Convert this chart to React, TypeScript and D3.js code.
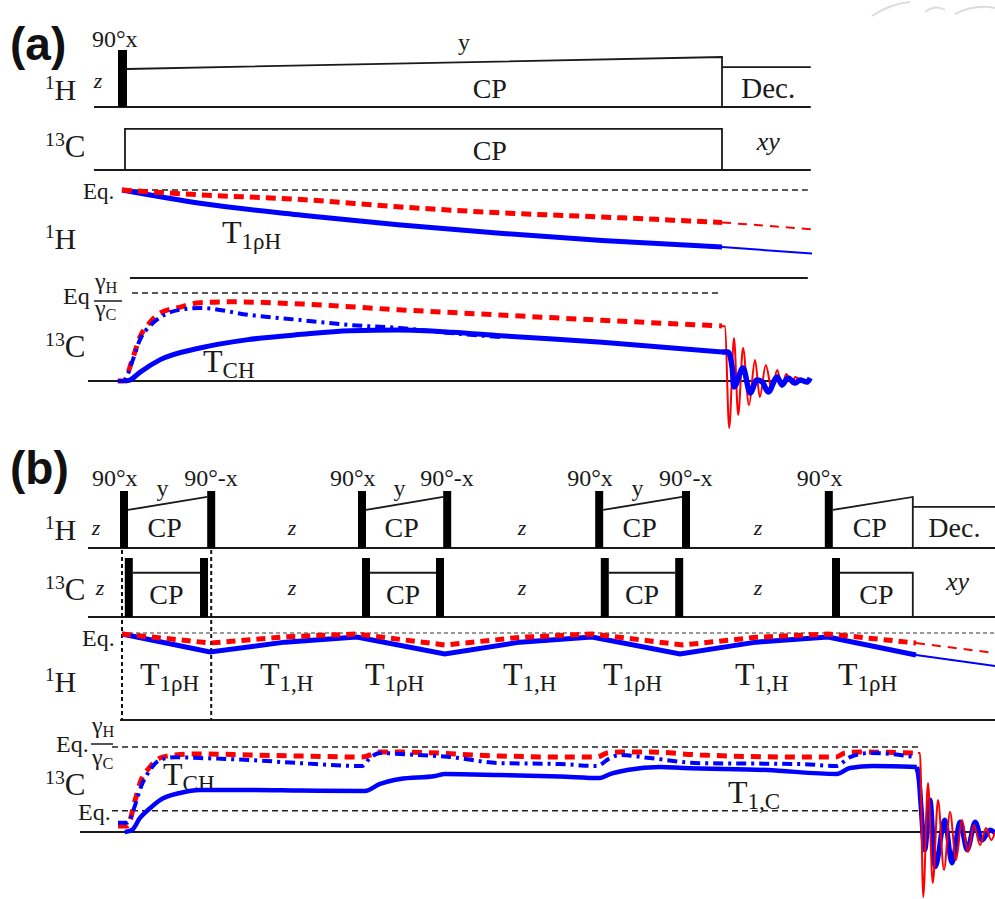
import * as d3 from 'd3'

type Pt = [number, number]
type Span = [number, number]

// ===== (a) single cross-polarization =====
// time: CP contact = 0..100 (arb. units), rf amplitude 0..1, magnetization in % of equilibrium
const aChannelSpan: Span = [-4.67, 114.8]
const aHPulse: Span = [-0.67, 0.83]
const aHRamp: Span = [0.83, 100]
const aHRampAmp: Span = [0.667, 0.877]
const aDec: Span = [100, 114.8]
const aDecAmp = 0.7
const aCLock: Span = [0.5, 100]
const aCLockAmp = 0.72

const aHEqSpan: Span = [0, 114.3]
const aHRed: Pt[] = [[0, 100], [13, 96], [30, 92], [46, 86], [63, 81], [80, 77.5], [100, 73]]
const aHRedAcq: Pt[] = [[100, 73], [115.5, 67]]
const aHBlue: Pt[] = [[0, 100], [13, 89], [30, 79], [46, 71], [63, 64], [80, 58], [100, 52.5]]
const aHBlueAcq: Pt[] = [[100, 52.5], [115, 47]]

const aCTopLevel = 117
const aCTopSpan: Span = [1.33, 114.3]
const aCEqSpan: Span = [1.67, 100]
const aCBaseSpan: Span = [-5.67, 114.8]
const aCRed: Pt[] = [[-0.7, 0], [0.3, 0], [1.7, 24], [3, 50], [4.7, 67], [6.3, 77], [9.7, 84], [13, 89], [18, 90],
  [30, 87.5], [46, 81], [63, 75], [80, 69], [100, 62.5]]
const aCBlueDD: Pt[] = [[-0.7, 0], [0.3, 0], [1.7, 22], [3, 47], [4.7, 63], [6.3, 72], [9.7, 81], [13, 83], [21.3, 75],
  [29.7, 69.3], [38, 63.6], [46.3, 60.2], [54.7, 54.5], [63, 50]]
const aCBlue: Pt[] = [[0.5, 0], [1.3, 1], [3, 10], [6.3, 24], [13, 37.5], [21, 47], [30, 53], [38, 57], [46, 58],
  [55, 55.5], [63, 51.5], [80, 44], [100, 33]]
const aFidRed: Pt[] = [[100, 62.5], [100.5, 62], [101.2, -53.4], [102, 48.9], [102.7, -38.6], [103.5, 37.5], [104.5, -27.3],
  [105.5, 23.9], [106.3, -18.2], [107.3, 18.2], [108.3, -10.2], [109.2, 12.5], [110, -6.8], [110.7, 8], [111.7, -3.4],
  [112.2, 4.5], [113, 0]]
const aFidBlue: Pt[] = [[100, 33], [101, 33], [101.7, 14.8], [102, -6.8], [103.5, 14.8], [104.7, -13.6], [105.8, 1.1],
  [106.7, -1.1], [107.7, -12.5], [109.2, 4.5], [110, -4.5], [111, 3.4], [112.2, -2.3], [113, 1.1], [114.2, -1.1], [114.7, 3.4]]

// ===== (b) multiple cross-polarization =====
const bChannelSpan: Span = [-4, 109.4]
const bHPulses = [0, 10.9, 29.75, 40.4, 59.4, 70.25, 88.1]
const bCPulses = [0.6, 10, 30.25, 39.5, 60.1, 69.4, 89]
const pulseW = 1
const bHRamps: Span[] = [[1, 10.9], [30.75, 40.4], [60.4, 70.25], [89.1, 99.1]]
const bHRampAmp: Span = [0.667, 0.895]
const bCLocks: Span[] = [[1.6, 10], [31.25, 39.5], [61.1, 69.4], [90, 99.1]]
const bCLockAmp = 0.75
const bDec: Span = [99.1, 109.4]
const bDecAmp = 0.72
const bZTimes = [21.5, 50.25, 79.75]
const bMarkers = [0.25, 11.4]

const bHEqSpan: Span = [0.25, 109.4]
const bHBaseSpan: Span = [0, 109.4]
const bHBlue: Pt[] = [[0.25, 98.9], [11.25, 78.2], [20.6, 89.5], [29.6, 95.4], [40.6, 75.9], [50, 89.5], [59, 95.4],
  [70, 75.9], [79.5, 89.5], [88.5, 95.4], [99.5, 74.7]]
const bHBlueAcq: Pt[] = [[99.5, 74.7], [109.4, 62]]
const bHRed: Pt[] = [[0.25, 98.9], [11.25, 88.5], [20.6, 95.5], [29.6, 98.9], [40.6, 86.2], [50, 95], [59, 98.9],
  [70.4, 86.2], [79.5, 95], [88.5, 98.9], [99.5, 88.5]]
const bHRedAcq: Pt[] = [[99.5, 88.5], [109.4, 77]]

const bCEqHSpan: Span = [-1, 100.25]
const bCEqSpan: Span = [-1, 99.75]
const bCEqLevel = 25
const bCBaseSpan: Span = [-5, 109.4]
const bCRed: Pt[] = [[-0.25, 7], [0.9, 7], [1.9, 37.6], [2.5, 57.6], [3.75, 76.5], [5, 87], [6.9, 90.6], [10, 91.8],
  [16.25, 90.6], [22.5, 89.4], [30.25, 88.2], [31.25, 90.6], [32.5, 94.1], [35, 94.1], [47.5, 89.4], [55, 88.2],
  [59.6, 88.2], [60.9, 92.9], [62.5, 94.1], [66.25, 94.1], [72.5, 90.6], [85, 88.2], [89.5, 88.2], [90.6, 92.9],
  [92.5, 94.1], [99.75, 92.9]]
const bCBlueDD: Pt[] = [[-0.25, 11], [0.9, 11], [1.9, 32], [2.5, 50], [3.75, 73], [5, 84.7], [6.9, 88], [10, 87],
  [16.25, 84.7], [22.5, 81], [30.25, 77.6], [31.25, 87], [32.5, 93], [35, 91.8], [41.25, 88.2], [47.5, 81], [55, 80],
  [59.6, 77.6], [61.25, 87], [62.5, 90.6], [66.25, 87], [72.5, 81], [85, 80], [89.5, 77.6], [91.25, 88.2],
  [93.75, 93], [99.4, 88.2]]
const bCBlue: Pt[] = [[0.6, 0], [1.5, 2.4], [2.5, 16.5], [3.75, 28], [5, 37.6], [7.5, 45.9], [10, 49.4], [16.25, 49.4],
  [22.5, 48.8], [30.6, 48.2], [32.5, 56.5], [35, 62.4], [39.4, 65.9], [40.6, 68.2], [47.5, 67], [55, 65.3], [60, 63.5],
  [61.25, 68.2], [63.4, 72.9], [67.5, 76.5], [70.4, 75.3], [80.9, 72.9], [89.6, 68.2], [91.25, 75.3], [94.1, 77.6],
  [99.6, 76.5]]
const bFidRed: Pt[] = [[99.75, 92.9], [100, 93], [100.4, -76.5], [101, 57.6], [101.6, -60], [102.25, 37.6], [103, -44.7],
  [103.75, 23.5], [104.5, -33], [105.25, 14], [106, -23.5], [106.75, 8.2], [107.5, -15.3], [108.25, 4.7],
  [108.9, -9.4], [109.4, 0]]
const bFidBlue: Pt[] = [[99.6, 76.5], [99.9, 60], [100.1, 34], [100.6, -21], [101.25, 37.6], [101.9, -41], [103.1, 14],
  [104, -36.5], [105, 11.8], [105.9, -21], [106.9, 11.8], [107.75, -9.4], [108.75, 2.4], [109.4, -1.2]]

const RED = '#ff0000'
const BLUE = '#0000ff'
const INK = '#1a1a1a'
const serif = '"Liberation Serif", "Times New Roman", serif'
const sans = '"Liberation Sans", Arial, sans-serif'

const mkLine = (x: d3.ScaleLinear<number, number>, y: d3.ScaleLinear<number, number>, curve: d3.CurveFactory = d3.curveMonotoneX) =>
  d3.line<Pt>().x((d) => x(d[0])).y((d) => y(d[1])).curve(curve)

function Nuc({ x, y, mass, sym, size = 30 }: { x: number; y: number; mass: string; sym: string; size?: number }) {
  return (
    <text x={x} y={y} fontSize={size} fill={INK}>
      <tspan fontSize={size * 0.64} dy={-size * 0.36}>{mass}</tspan>
      <tspan dy={size * 0.36}>{sym}</tspan>
    </text>
  )
}

function TLabel({ x, y, sub, size = 32 }: { x: number; y: number; sub: string; size?: number }) {
  return (
    <text x={x} y={y} fontSize={size} fill={INK}>
      T<tspan fontSize={size * 0.72} dy={size * 0.18}>{sub}</tspan>
    </text>
  )
}

function Gamma({ x, y, sub, size = 24 }: { x: number; y: number; sub: string; size?: number }) {
  return (
    <text x={x} y={y} fontSize={size} fill={INK}>
      γ<tspan fontSize={size * 0.68} dy={size * 0.18}>{sub}</tspan>
    </text>
  )
}

export default function App() {
  const W = 995
  const H = 899

  // ----- scales (a)
  const xA = d3.scaleLinear().domain([0, 100]).range([122, 722])
  const yARfH = d3.scaleLinear().domain([0, 1]).range([107, 50])
  const yARfC = d3.scaleLinear().domain([0, 1]).range([170, 113])
  const yAMagH = d3.scaleLinear().domain([0, 100]).range([310, 190])
  const yAMagC = d3.scaleLinear().domain([0, 100]).range([381, 293])

  // ----- scales (b)
  const xB = d3.scaleLinear().domain([0, 100]).range([120, 920])
  const yBRfH = d3.scaleLinear().domain([0, 1]).range([548, 491])
  const yBRfC = d3.scaleLinear().domain([0, 1]).range([617, 558])
  const yBMagH = d3.scaleLinear().domain([0, 100]).range([720, 633])
  const yBMagC = d3.scaleLinear().domain([0, 100]).range([832, 747])

  const lAH = mkLine(xA, yAMagH)
  const lAC = mkLine(xA, yAMagC)
  const lBH = mkLine(xB, yBMagH, d3.curveLinear)
  const lBC = mkLine(xB, yBMagC)

  const eqDash = { stroke: '#222', strokeWidth: 1.6, strokeDasharray: '6 4', fill: 'none' }
  const rule = { stroke: INK, strokeWidth: 2, fill: 'none' }
  const outline = { stroke: INK, strokeWidth: 1.8, fill: 'none' }

  return (
    <svg width={W} height={H} style={{ position: 'absolute', left: 0, top: 0, background: '#fff' }} fontFamily={serif}>
      {/* faint watermark, top right */}
      <g stroke="#d4d4d4" strokeWidth={2} fill="none" opacity={0.8}>
        <path d="M 872 16 Q 890 4 910 2" />
        <path d="M 925 12 Q 935 4 945 10" />
        <path d="M 955 14 Q 975 4 995 8" />
      </g>

      {/* ================= (a) ================= */}
      <text x={10} y={60} fontFamily={sans} fontWeight="bold" fontSize={46} fill="#111">(a)</text>

      {/* 1H rf channel */}
      <line x1={xA(aChannelSpan[0])} x2={xA(aChannelSpan[1])} y1={yARfH(0)} y2={yARfH(0)} {...rule} />
      <rect x={xA(aHPulse[0])} y={yARfH(1)} width={xA(aHPulse[1]) - xA(aHPulse[0])} height={yARfH(0) - yARfH(1)} fill="#000" />
      <path d={`M${xA(aHRamp[0])},${yARfH(aHRampAmp[0])} L${xA(aHRamp[1])},${yARfH(aHRampAmp[1])} L${xA(aHRamp[1])},${yARfH(0)}`} {...outline} />
      <path d={`M${xA(aDec[0])},${yARfH(aDecAmp)} L${xA(aDec[1])},${yARfH(aDecAmp)}`} {...outline} />
      <text x={92} y={47} fontSize={24} fill={INK}>90°x</text>
      <text x={xA(57)} y={50} fontSize={24} fill={INK} textAnchor="middle">y</text>
      <text x={98} y={88} fontSize={22} fontStyle="italic" fill={INK} textAnchor="middle">z</text>
      <Nuc x={45} y={100} mass="1" sym="H" />
      <text x={xA(61.3)} y={98} fontSize={28} fill={INK} textAnchor="middle">CP</text>
      <text x={xA(107.7)} y={98} fontSize={29} fill={INK} textAnchor="middle">Dec.</text>

      {/* 13C rf channel */}
      <line x1={xA(aChannelSpan[0])} x2={xA(aChannelSpan[1])} y1={yARfC(0)} y2={yARfC(0)} {...rule} />
      <path d={`M${xA(aCLock[0])},${yARfC(0)} L${xA(aCLock[0])},${yARfC(aCLockAmp)} L${xA(aCLock[1])},${yARfC(aCLockAmp)} L${xA(aCLock[1])},${yARfC(0)}`} {...outline} />
      <Nuc x={45} y={157} mass="13" sym="C" size={31} />
      <text x={xA(61.3)} y={160} fontSize={28} fill={INK} textAnchor="middle">CP</text>
      <text x={xA(107.7)} y={150} fontSize={26} fontStyle="italic" fill={INK} textAnchor="middle">xy</text>

      {/* 1H magnetization */}
      <line x1={xA(aHEqSpan[0])} x2={xA(aHEqSpan[1])} y1={yAMagH(100)} y2={yAMagH(100)} {...eqDash} />
      <text x={83} y={199} fontSize={23} fill={INK}>Eq.</text>
      <path d={lAH(aHBlueAcq) ?? ''} stroke={BLUE} strokeWidth={2} fill="none" />
      <path d={lAH(aHBlue) ?? ''} stroke={BLUE} strokeWidth={5} fill="none" />
      <path d={lAH(aHRedAcq) ?? ''} stroke={RED} strokeWidth={2} strokeDasharray="9 7" fill="none" />
      <path d={lAH(aHRed) ?? ''} stroke={RED} strokeWidth={5} strokeDasharray="10 6" fill="none" />
      <TLabel x={222} y={243} sub="1ρH" />
      <Nuc x={45} y={249} mass="1" sym="H" />

      {/* 13C magnetization */}
      <line x1={xA(aCTopSpan[0])} x2={xA(aCTopSpan[1])} y1={yAMagC(aCTopLevel)} y2={yAMagC(aCTopLevel)} {...rule} />
      <line x1={xA(aCEqSpan[0])} x2={xA(aCEqSpan[1])} y1={yAMagC(100)} y2={yAMagC(100)} {...eqDash} />
      <line x1={xA(aCBaseSpan[0])} x2={xA(aCBaseSpan[1])} y1={yAMagC(0)} y2={yAMagC(0)} {...rule} />
      <text x={63} y={304} fontSize={24} fill={INK}>Eq</text>
      <Gamma x={95} y={289} sub="H" />
      <line x1={94} x2={122} y1={301} y2={301} stroke={INK} strokeWidth={1.5} />
      <Gamma x={95} y={316} sub="C" />
      <Nuc x={45} y={357} mass="13" sym="C" size={31} />
      <TLabel x={203} y={372} sub="CH" />
      <path d={lAC(aFidRed) ?? ''} stroke={RED} strokeWidth={2} fill="none" />
      <path d={lAC(aCRed) ?? ''} stroke={RED} strokeWidth={5} strokeDasharray="10 7" fill="none" />
      <path d={lAC(aCBlueDD) ?? ''} stroke={BLUE} strokeWidth={4} strokeDasharray="10 5 3 5" fill="none" />
      <path d={lAC(aCBlue) ?? ''} stroke={BLUE} strokeWidth={5} fill="none" />
      <path d={lAC(aFidBlue) ?? ''} stroke={BLUE} strokeWidth={5.5} fill="none" strokeLinejoin="round" />

      {/* ================= (b) ================= */}
      <text x={10} y={484} fontFamily={sans} fontWeight="bold" fontSize={46} fill="#111">(b)</text>

      {/* 1H rf channel */}
      <line x1={xB(bChannelSpan[0])} x2={xB(bChannelSpan[1])} y1={yBRfH(0)} y2={yBRfH(0)} {...rule} />
      {bHPulses.map((t, i) => (
        <rect key={`hp${i}`} x={xB(t)} y={yBRfH(1)} width={xB(t + pulseW) - xB(t)} height={yBRfH(0) - yBRfH(1)} fill="#000" />
      ))}
      {bHRamps.map(([t0, t1], i) => (
        <path key={`hr${i}`} d={`M${xB(t0)},${yBRfH(bHRampAmp[0])} L${xB(t1)},${yBRfH(bHRampAmp[1])}` +
          (i === bHRamps.length - 1 ? ` L${xB(t1)},${yBRfH(0)}` : '')} {...outline} />
      ))}
      <path d={`M${xB(bDec[0])},${yBRfH(bDecAmp)} L${xB(bDec[1])},${yBRfH(bDecAmp)}`} {...outline} />
      {bHPulses.map((t, i) => (
        <text key={`hl${i}`} x={xB(t) - (i % 2 === 0 ? 28 : 23)} y={486} fontSize={24} fill={INK}>
          {i % 2 === 0 ? '90°x' : '90°-x'}
        </text>
      ))}
      {bHRamps.slice(0, 3).map(([t0, t1], i) => (
        <text key={`hy${i}`} x={xB((t0 + t1) / 2) - 5} y={496} fontSize={24} fill={INK} textAnchor="middle">y</text>
      ))}
      {bHRamps.map(([t0, t1], i) => (
        <text key={`hc${i}`} x={xB((t0 + t1) / 2) - 3} y={537} fontSize={28} fill={INK} textAnchor="middle">CP</text>
      ))}
      <Nuc x={45} y={540} mass="1" sym="H" />
      <text x={xB(-3)} y={535} fontSize={22} fontStyle="italic" fill={INK} textAnchor="middle">z</text>
      {bZTimes.map((t, i) => (
        <text key={`hz${i}`} x={xB(t)} y={535} fontSize={22} fontStyle="italic" fill={INK} textAnchor="middle">z</text>
      ))}
      <text x={xB(104.3)} y={537} fontSize={28} fill={INK} textAnchor="middle">Dec.</text>

      {/* 13C rf channel */}
      <line x1={xB(bChannelSpan[0])} x2={xB(bChannelSpan[1])} y1={yBRfC(0)} y2={yBRfC(0)} {...rule} />
      {bCPulses.map((t, i) => (
        <rect key={`cp${i}`} x={xB(t)} y={yBRfC(1)} width={xB(t + pulseW) - xB(t)} height={yBRfC(0) - yBRfC(1)} fill="#000" />
      ))}
      {bCLocks.map(([t0, t1], i) => (
        <path key={`cl${i}`} d={`M${xB(t0)},${yBRfC(bCLockAmp)} L${xB(t1)},${yBRfC(bCLockAmp)}` +
          (i === bCLocks.length - 1 ? ` L${xB(t1)},${yBRfC(0)}` : '')} {...outline} />
      ))}
      {bCLocks.map(([t0, t1], i) => (
        <text key={`cc${i}`} x={xB((t0 + t1) / 2)} y={604} fontSize={28} fill={INK} textAnchor="middle">CP</text>
      ))}
      <Nuc x={45} y={600} mass="13" sym="C" size={31} />
      <text x={xB(-2.5)} y={595} fontSize={22} fontStyle="italic" fill={INK} textAnchor="middle">z</text>
      {bZTimes.map((t, i) => (
        <text key={`cz${i}`} x={xB(t)} y={595} fontSize={22} fontStyle="italic" fill={INK} textAnchor="middle">z</text>
      ))}
      <text x={xB(104.7)} y={590} fontSize={26} fontStyle="italic" fill={INK} textAnchor="middle">xy</text>

      {/* timing markers */}
      {bMarkers.map((t, i) => (
        <line key={`mk${i}`} x1={xB(t)} x2={xB(t)} y1={yBRfH(0) + 2} y2={yBMagH(0)} stroke="#111" strokeWidth={2} strokeDasharray="4 3" />
      ))}

      {/* 1H magnetization */}
      <line x1={xB(bHEqSpan[0])} x2={xB(bHEqSpan[1])} y1={yBMagH(100)} y2={yBMagH(100)} stroke="#333" strokeWidth={1.2} strokeDasharray="4 3" />
      <line x1={xB(bHBaseSpan[0])} x2={xB(bHBaseSpan[1])} y1={yBMagH(0)} y2={yBMagH(0)} {...rule} />
      <text x={82} y={646} fontSize={24} fill={INK}>Eq.</text>
      <path d={lBH(bHBlueAcq) ?? ''} stroke={BLUE} strokeWidth={2} fill="none" />
      <path d={lBH(bHBlue) ?? ''} stroke={BLUE} strokeWidth={5} fill="none" />
      <path d={lBH(bHRedAcq) ?? ''} stroke={RED} strokeWidth={2} strokeDasharray="9 7" fill="none" />
      <path d={lBH(bHRed) ?? ''} stroke={RED} strokeWidth={5} strokeDasharray="9 6" fill="none" />
      <Nuc x={45} y={692} mass="1" sym="H" />
      {[140, 365, 603, 838].map((x, i) => (
        <TLabel key={`t1r${i}`} x={x} y={685} sub="1ρH" />
      ))}
      {[260, 503, 735].map((x, i) => (
        <TLabel key={`t1h${i}`} x={x} y={685} sub="1,H" />
      ))}

      {/* 13C magnetization */}
      <line x1={xB(bCEqHSpan[0])} x2={xB(bCEqHSpan[1])} y1={yBMagC(100)} y2={yBMagC(100)} {...eqDash} />
      <line x1={xB(bCEqSpan[0])} x2={xB(bCEqSpan[1])} y1={yBMagC(bCEqLevel)} y2={yBMagC(bCEqLevel)} {...eqDash} />
      <line x1={xB(bCBaseSpan[0])} x2={xB(bCBaseSpan[1])} y1={yBMagC(0)} y2={yBMagC(0)} {...rule} />
      <text x={56} y={752} fontSize={24} fill={INK}>Eq.</text>
      <Gamma x={92} y={733} sub="H" />
      <line x1={91} x2={113} y1={744} y2={744} stroke={INK} strokeWidth={1.5} />
      <Gamma x={92} y={765} sub="C" />
      <Nuc x={45} y={795} mass="13" sym="C" size={31} />
      <text x={78} y={820} fontSize={24} fill={INK}>Eq.</text>
      <TLabel x={163} y={785} sub="CH" />
      <TLabel x={728} y={803} sub="1,C" />
      <path d={lBC(bFidBlue) ?? ''} stroke={BLUE} strokeWidth={5} fill="none" strokeLinejoin="round" />
      <path d={lBC(bFidRed) ?? ''} stroke={RED} strokeWidth={2} fill="none" />
      <path d={lBC(bCRed) ?? ''} stroke={RED} strokeWidth={5} strokeDasharray="10 7" fill="none" />
      <path d={lBC(bCBlueDD) ?? ''} stroke={BLUE} strokeWidth={4} strokeDasharray="10 5 3 5" fill="none" />
      <path d={lBC(bCBlue) ?? ''} stroke={BLUE} strokeWidth={4.5} fill="none" />
    </svg>
  )
}
